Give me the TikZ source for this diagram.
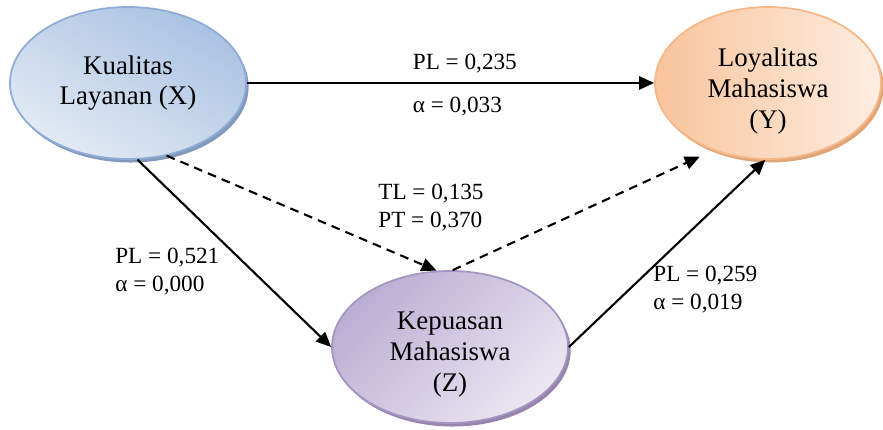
\documentclass[tikz,border=0pt]{standalone}
\usepackage{fontspec}
\setmainfont{Liberation Serif}
\usetikzlibrary{shapes.geometric,shadows,arrows.meta}
\definecolor{XLine}{HTML}{8EACD5}
\definecolor{XDark}{HTML}{A9C2E2}
\definecolor{XLight}{HTML}{E2EAF4}
\definecolor{XShade}{HTML}{8299BC}
\definecolor{YLine}{HTML}{F6B888}
\definecolor{YDark}{HTML}{F8C49C}
\definecolor{YLight}{HTML}{FDEDE1}
\definecolor{YShade}{HTML}{E0A677}
\definecolor{ZLine}{HTML}{A595C2}
\definecolor{ZDark}{HTML}{BBAED3}
\definecolor{ZLight}{HTML}{EBE6F2}
\definecolor{ZShade}{HTML}{9684AE}

\begin{document}
\begin{tikzpicture}[x=1cm,y=1cm,
  varnode/.style={ellipse,draw,line width=1pt,inner sep=0pt,minimum height=3.04cm,align=center,font=\fontsize{15.3}{17.5}\selectfont},
  link/.style={line width=1.2pt,-{Triangle[length=8.5pt,width=7.5pt]}},
  indirect/.style={link,dash pattern=on 5pt off 3.5pt},
  coef/.style={font=\fontsize{13.2}{16}\selectfont,align=left,inner sep=0pt}]
\path[use as bounding box] (0,0) rectangle (17.66,8.60);
\node[varnode,minimum width=4.72cm,XLine,text=black,top color=XDark,bottom color=XLight,shading angle=-30,
  drop shadow={shadow xshift=1.5pt,shadow yshift=-2pt,fill=XShade,opacity=1}] (X) at (2.56,6.94) {Kualitas\\Layanan (X)};
\node[varnode,minimum width=4.52cm,YLine,text=black,top color=YDark,bottom color=YLight,shading angle=90,
  drop shadow={shadow xshift=1.5pt,shadow yshift=-2pt,fill=YShade,opacity=1}] (Y) at (15.36,6.94) {\rule{0pt}{7mm}Loyalitas\\Mahasiswa\\(Y)};
\node[varnode,minimum width=4.72cm,ZLine,text=black,top color=ZDark,bottom color=ZLight,shading angle=45,
  drop shadow={shadow xshift=1.5pt,shadow yshift=-2pt,fill=ZShade,opacity=1}] (Z) at (9.00,1.66) {\rule{0pt}{6.5mm}Kepuasan\\Mahasiswa\\(Z)};
\draw[link] (X.east) -- node[coef,pos=.405,anchor=base west,yshift=.26cm] (plXY) {PL = 0,235}
  node[coef,pos=.405,anchor=base west,yshift=-.60cm] (aXY) {α = 0,033} (Y.west);
\draw[link] (X.-83) -- (Z.west);
\draw[link] (Z.east) -- (Y.-92);
\draw[indirect] (X.-62) -- (Z.100);
\draw[indirect,shorten >=.3cm] (Z.88) -- (Y.-129);
\node[coef,anchor=west] (cXZ) at (2.30,3.16) {PL = 0,521\\α = 0,000};
\node[coef,anchor=west] (cZY) at (13.06,2.80) {PL = 0,259\\α = 0,019};
\node[coef,anchor=west] (cInd) at (7.56,4.45) {TL = 0,135\\PT = 0,370};
\end{tikzpicture}
\end{document}
